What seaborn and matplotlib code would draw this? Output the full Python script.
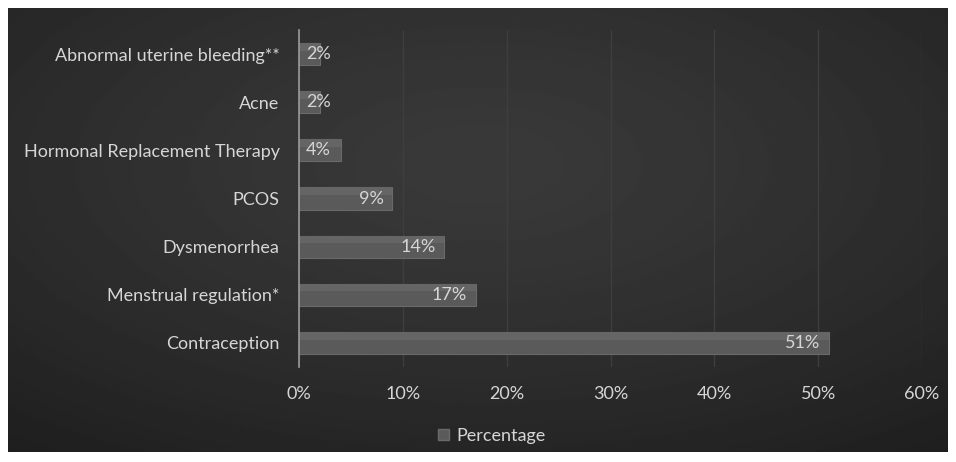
import numpy as np
import pandas as pd
import matplotlib
matplotlib.use("Agg")
import matplotlib.pyplot as plt
import seaborn as sns
from matplotlib.patches import Rectangle

categories = ["Abnormal uterine bleeding**", "Acne", "Hormonal Replacement Therapy",
              "PCOS", "Dysmenorrhea", "Menstrual regulation*", "Contraception"]
values = [2, 2, 4, 9, 14, 17, 51]
xticks = [0, 10, 20, 30, 40, 50, 60]
xtick_labels = ["0%", "10%", "20%", "30%", "40%", "50%", "60%"]
series_name = "Percentage"

sns.set_theme(style="dark")
plt.rcParams['font.family'] = ['Lato', 'DejaVu Sans']

FS = 13
W, H = 956, 462
fig = plt.figure(figsize=(W / 100, H / 100), dpi=100)
fig.patch.set_facecolor("white")

# background panel with radial gradient
bg = fig.add_axes([8 / W, 10 / H, 940 / W, 444 / H])
bg.set_axis_off()
yy, xx = np.mgrid[0:200, 0:420]
cx, cy = 210, 70
d = np.sqrt(((xx - cx) / 420) ** 2 + ((yy - cy) / 200) ** 2)
d = d / d.max()
c0, c1 = 0.225, 0.12
img = c0 - (c0 - c1) * d ** 1.3
bg.imshow(img, cmap="gray", vmin=0, vmax=1, aspect="auto", extent=[0, 1, 0, 1], origin="upper")
bg.set_xlim(0, 1)
bg.set_ylim(0, 1)

ax = fig.add_axes([299 / W, 1 - 367 / H, (922 - 299) / W, (367 - 30) / H])
ax.patch.set_alpha(0)

df = pd.DataFrame({"Category": categories, series_name: values})
sns.barplot(data=df, x=series_name, y="Category", orient="h", ax=ax,
            color="#5a5a5a", width=0.46, edgecolor="#6a6a6a", linewidth=0.8,
            saturation=1)

# subtle top highlight on bars
for p in ax.patches:
    x0, y0 = p.get_x(), p.get_y()
    w, h = p.get_width(), p.get_height()
    ax.add_patch(Rectangle((x0, y0), w, h * 0.35, facecolor="#656565", edgecolor="none", zorder=p.get_zorder() + 0.1))

ax.set_xlim(0, 60)
ax.set_xticks(xticks)
ax.set_xticklabels(xtick_labels)
ax.set_xlabel("")
ax.set_ylabel("")
ax.grid(axis="x", color="#3e3e3e", linewidth=1.0)
ax.grid(axis="y", visible=False)
ax.set_axisbelow(True)
for s in ["top", "right", "bottom"]:
    ax.spines[s].set_visible(False)
ax.spines["left"].set_color("#9a9a9a")
ax.spines["left"].set_linewidth(1.2)
ax.tick_params(axis="both", length=0, colors="#d6d6d6", labelsize=FS)
ax.tick_params(axis="x", pad=14)
ax.tick_params(axis="y", pad=14)

for i, v in enumerate(values):
    if v < 6:
        ax.text(0.65, i, f"{v}%", ha="left", va="center", color="#d6d6d6", fontsize=FS, zorder=5)
    else:
        ax.text(v - 0.8, i, f"{v}%", ha="right", va="center", color="#d6d6d6", fontsize=FS, zorder=5)

handle = Rectangle((0, 0), 1, 1, facecolor="#5a5a5a", edgecolor="#6a6a6a")
leg = fig.legend([handle], [series_name], loc="center", bbox_to_anchor=(492 / W, 1 - 436 / H),
                 frameon=False, fontsize=FS, handlelength=0.6, handleheight=0.6,
                 handletextpad=0.4)
for t in leg.get_texts():
    t.set_color("#d6d6d6")

fig.savefig("out.png", dpi=100, facecolor="white")
